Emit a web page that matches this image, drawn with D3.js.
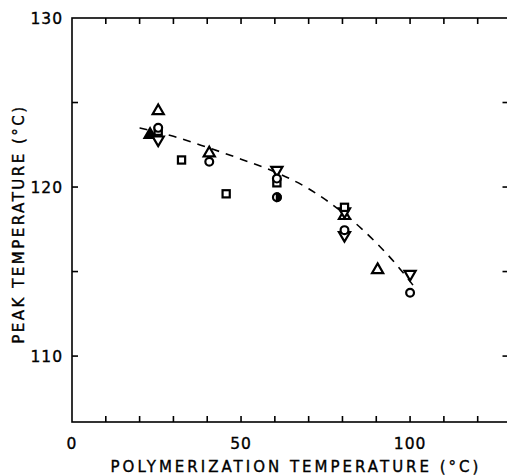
<!DOCTYPE html>
<html><head><meta charset="utf-8">
<script src="https://cdn.jsdelivr.net/npm/d3@7"></script>
<style>
body{margin:0;background:#fff;}
text{font-family:"DejaVu Sans",sans-serif;fill:#000;stroke:#000;stroke-width:0.35px;}
</style></head><body>
<svg id="c" width="507" height="476"></svg>
<script>
// ---- data ----
const xTicks = [10,20,30,40,50,60,70,80,90,100,110,120];
const xLabels = [0,50,100];
const yTicks = [110,115,120,125];
const yLabels = [110,120,130];
const openTriangleX = [25.5,40.6,80.6,90.4];
const openTriangleY = [124.5,122.0,118.3,115.1];
const filledTriangleX = [23.1];
const filledTriangleY = [123.1];
const invTriangleX = [25.5,60.6,80.6,80.6,100];
const invTriangleY = [122.8,121.0,118.55,117.15,114.85];
const circleX = [25.5,40.6,60.6,80.6,100];
const circleY = [123.5,121.5,120.5,117.45,113.75];
const squareX = [25.5,32.4,45.6,60.6,80.6];
const squareY = [123.3,121.6,119.6,120.25,118.8];
const halfCircleX = [60.6];
const halfCircleY = [119.4];
const fitX = [20,30,40,50,60,70,80,90,96,102];
const fitY = [123.5,123.0,122.35,121.65,120.9,119.9,118.5,116.7,115.4,113.9];

const svg = d3.select("#c");
const x = d3.scaleLinear().domain([0,130]).range([72,511.5]);
const y = d3.scaleLinear().domain([106.1,130]).range([422,18]);

// frame
const g = svg.append("g").attr("stroke","#000").attr("fill","none").attr("stroke-width",1.6);
g.append("rect").attr("x",x(0)).attr("y",y(130)).attr("width",x(130)-x(0)).attr("height",y(106.1)-y(130));

// ticks (inward)
const tk = svg.append("g").attr("stroke","#000").attr("stroke-width",1.6);
tk.selectAll(".tb").data(xTicks).enter().append("line")
  .attr("x1",d=>x(d)).attr("x2",d=>x(d)).attr("y1",y(106.1)).attr("y2",y(106.1)-6);
tk.selectAll(".tt").data(xTicks).enter().append("line")
  .attr("x1",d=>x(d)).attr("x2",d=>x(d)).attr("y1",y(130)).attr("y2",y(130)+6);
tk.selectAll(".tl").data(yTicks).enter().append("line")
  .attr("x1",x(0)).attr("x2",x(0)+6).attr("y1",d=>y(d)).attr("y2",d=>y(d));
tk.selectAll(".tr").data(yTicks).enter().append("line")
  .attr("x1",x(130)).attr("x2",x(130)-9).attr("y1",d=>y(d)).attr("y2",d=>y(d));

// tick labels
svg.selectAll(".xl").data(xLabels).enter().append("text")
  .attr("x",d=>x(d)).attr("y",449).attr("text-anchor","middle")
  .attr("font-size",15.5).attr("letter-spacing",1).text(d=>d);
svg.selectAll(".yl").data(yLabels).enter().append("text")
  .attr("x",63).attr("y",d=>y(d)+5.5).attr("text-anchor","end")
  .attr("font-size",15.5).attr("letter-spacing",1).text(d=>d);

// axis titles
svg.append("text").attr("x",296).attr("y",472).attr("text-anchor","middle")
  .attr("font-size",15).attr("letter-spacing",3).text("POLYMERIZATION TEMPERATURE (°C)");
svg.append("text").attr("transform",`translate(24,224) rotate(-90)`).attr("text-anchor","middle")
  .attr("font-size",15).attr("letter-spacing",2.5).text("PEAK TEMPERATURE (°C)");

// fit curve
svg.append("path").datum(fitX.map((d,i)=>[d,fitY[i]]))
  .attr("d",d3.line().x(d=>x(d[0])).y(d=>y(d[1])).curve(d3.curveMonotoneX))
  .attr("fill","none").attr("stroke","#000").attr("stroke-width",1.6).attr("stroke-dasharray","8,7");

// markers
const mk = svg.append("g").attr("stroke","#000").attr("stroke-width",2.2);
function pts(xs,ys){return xs.map((d,i)=>[x(d),y(ys[i])]);}
const triUp = d3.symbol().type(d3.symbolTriangle).size(54);
mk.selectAll(".tu").data(pts(openTriangleX,openTriangleY)).enter().append("path")
  .attr("d",triUp()).attr("fill","#fff").attr("transform",d=>`translate(${d[0]},${d[1]})`);
mk.selectAll(".tf").data(pts(filledTriangleX,filledTriangleY)).enter().append("path")
  .attr("d",triUp()).attr("fill","#000").attr("transform",d=>`translate(${d[0]},${d[1]})`);
mk.selectAll(".td").data(pts(invTriangleX,invTriangleY)).enter().append("path")
  .attr("d",triUp()).attr("fill","#fff").attr("transform",d=>`translate(${d[0]},${d[1]}) rotate(180)`);
mk.selectAll(".sq").data(pts(squareX,squareY)).enter().append("rect")
  .attr("x",d=>d[0]-3.6).attr("y",d=>d[1]-3.6).attr("width",7.2).attr("height",7.2).attr("fill","#fff");
mk.selectAll(".ci").data(pts(circleX,circleY)).enter().append("circle")
  .attr("cx",d=>d[0]).attr("cy",d=>d[1]).attr("r",3.9).attr("fill","#fff");
const hc = mk.selectAll(".hc").data(pts(halfCircleX,halfCircleY)).enter().append("g")
  .attr("transform",d=>`translate(${d[0]},${d[1]})`);
hc.append("circle").attr("r",3.9).attr("fill","#fff");
hc.append("path").attr("d",d3.arc()({innerRadius:0,outerRadius:3.9,startAngle:0,endAngle:Math.PI})).attr("fill","#000");
</script></body></html>
